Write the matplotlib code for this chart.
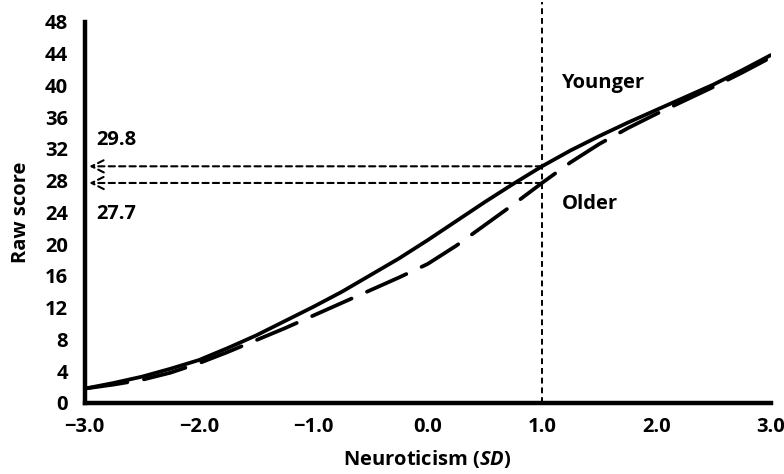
import numpy as np
import matplotlib.pyplot as plt

plt.rcParams['font.family'] = ['Open Sans', 'DejaVu Sans']
plt.rcParams['font.weight'] = 'bold'
plt.rcParams['mathtext.fontset'] = 'custom'
plt.rcParams['mathtext.it'] = 'Open Sans:italic:bold'
plt.rcParams['mathtext.rm'] = 'Open Sans:bold'

# Neuroticism (SD) vs raw score
sd = [-3.0, -2.75, -2.5, -2.25, -2.0, -1.75, -1.5, -1.25, -1.0, -0.75, -0.5, -0.25,
      0.0, 0.25, 0.5, 0.75, 1.0, 1.25, 1.5, 1.75, 2.0, 2.25, 2.5, 2.75, 3.0]
younger = [1.8, 2.5, 3.3, 4.3, 5.4, 6.9, 8.5, 10.3, 12.1, 14.0, 16.1, 18.2,
           20.5, 22.9, 25.3, 27.6, 29.8, 31.8, 33.6, 35.3, 36.9, 38.5, 40.1, 41.9, 43.8]
older = [1.8, 2.3, 2.9, 3.8, 5.0, 6.4, 7.9, 9.4, 11.0, 12.6, 14.2, 15.8,
         17.5, 19.8, 22.4, 25.0, 27.7, 30.3, 32.6, 34.6, 36.4, 38.1, 39.8, 41.6, 43.5]

cut_sd = 1.0
cut_young = 29.8
cut_old = 27.7

xticks = [-3.0, -2.0, -1.0, 0.0, 1.0, 2.0, 3.0]
yticks = list(range(0, 49, 4))

fig = plt.figure(figsize=(7.84, 4.74), dpi=100)
ax = fig.add_axes([0.108, 0.150, 0.875, 0.804])

ax.plot(sd, younger, color='black', lw=2.7, solid_capstyle='round', solid_joinstyle='round')
ax.plot(sd, older, color='black', lw=2.7, dashes=(11.5, 4.5), dash_capstyle='round',
        dash_joinstyle='round')

# vertical cut line
ax.plot([cut_sd, cut_sd], [0, 50.5], color='black', lw=1.4, ls=(0, (3, 2)), clip_on=False)

# arrows to y axis
for v in (cut_young, cut_old):
    ax.annotate('', xy=(-2.96, v), xytext=(cut_sd, v),
                arrowprops=dict(arrowstyle='->', color='black', lw=1.5,
                                linestyle=(0, (3, 2)), mutation_scale=22,
                                shrinkA=0, shrinkB=0))

ax.text(-2.9, 31.9, '29.8', fontsize=14.5, fontweight='bold', va='bottom', ha='left')
ax.text(-2.9, 25.0, '27.7', fontsize=14.5, fontweight='bold', va='top', ha='left')
ax.text(1.17, 40.3, 'Younger', fontsize=14.5, fontweight='bold', va='center', ha='left')
ax.text(1.17, 25.0, 'Older', fontsize=14.5, fontweight='bold', va='center', ha='left')

ax.set_xlim(-3.0, 3.0)
ax.set_ylim(0, 48)
ax.set_xticks(xticks)
ax.set_xticklabels(['\u22123.0', '\u22122.0', '\u22121.0', '0.0', '1.0', '2.0', '3.0'])
ax.set_yticks(yticks)
ax.tick_params(length=0, labelsize=14.5)
ax.tick_params(axis='x', pad=10)
ax.tick_params(axis='y', pad=12)
for lab in ax.get_xticklabels() + ax.get_yticklabels():
    lab.set_fontweight('bold')

ax.spines['top'].set_visible(False)
ax.spines['right'].set_visible(False)
ax.spines['left'].set_linewidth(3.2)
ax.spines['bottom'].set_linewidth(3.2)

ax.set_xlabel(r'Neuroticism ($\mathit{SD}$)', fontsize=14.5, fontweight='bold', labelpad=8)
ax.set_ylabel('Raw score', fontsize=14.5, fontweight='bold', labelpad=10)

fig.savefig('out.png', dpi=100)
